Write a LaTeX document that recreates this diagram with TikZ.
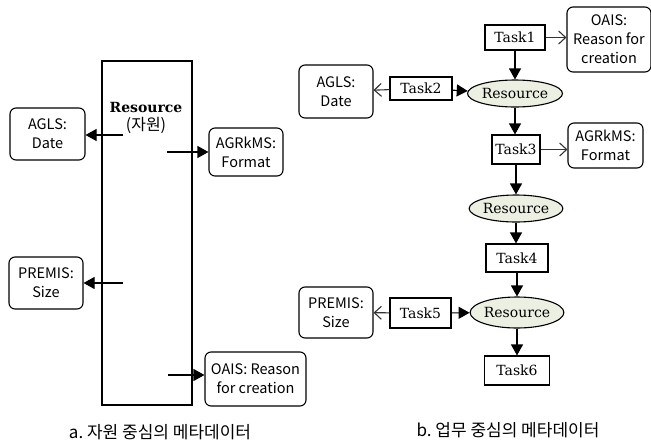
\documentclass[tikz,border=0pt]{standalone}
\usepackage{fontspec}
\newfontfamily\kr{Noto Sans CJK KR}
\newfontfamily\serifw{DejaVu Serif}
\usetikzlibrary{arrows.meta, shapes.geometric}
\definecolor{resfill}{RGB}{236,240,226}

\begin{document}
\begin{tikzpicture}[x=1pt, y=-1pt, line width=1.1pt,
    task/.style={draw, rectangle, inner sep=1pt, font=\serifw\fontsize{14}{16}\selectfont},
    meta/.style={draw, rounded corners=6pt, align=center, inner sep=1pt,
                 font=\kr\fontsize{14.5}{19}\selectfont},
    res/.style={draw, ellipse, fill=resfill, inner sep=0pt, font=\serifw\fontsize{14}{16}\selectfont},
    fa/.style={-{Triangle[length=11pt,width=12pt]}},
    oa/.style={-{Straight Barb[length=7pt,width=13pt]}, draw=black!80}]
    \useasboundingbox (0,0) rectangle (651,445);

    % a. resource-centred
    \node[draw, minimum width=90pt, minimum height=344pt] (resbox) at (147,233) {};
    \node[font=\serifw\bfseries\fontsize{14}{16}\selectfont] (restitle) at (146,107) {Resource};
    \node[font=\kr\fontsize{16}{17}\selectfont] (reskr) at (146,125) {(자원)};

    \node[meta, minimum width=75pt, minimum height=52pt] (aglsL) at (47.5,134) {AGLS:\\Date};
    \node[meta, minimum width=74pt, minimum height=48pt] (agrkmsL) at (246,152) {AGRkMS:\\Format};
    \node[meta, minimum width=74pt, minimum height=52pt] (premisL) at (46,283) {PREMIS:\\Size};
    \node[meta, minimum width=101pt, minimum height=54pt] (oaisL) at (255.5,379) {OAIS: Reason\\for creation};

    \coordinate (a1) at (123,135);
    \coordinate (a2) at (167,152);
    \coordinate (a3) at (123,283);
    \coordinate (a4) at (168,375);
    \draw[fa] (a1) -- (a1 -| aglsL.east);
    \draw[fa] (a2) -- (a2 -| agrkmsL.west);
    \draw[fa] (a3) -- (a3 -| premisL.east);
    \draw[fa] (a4) -- (a4 -| oaisL.west);

    \node[font=\kr\fontsize{17}{18}\selectfont] (capa) at (160,432) {a.\ 자원\ 중심의\ 메타데이터};

    % b. task-centred
    \node[task, minimum width=60pt, minimum height=25pt] (task1) at (515,37.5) {Task1};
    \node[task, minimum width=62pt, minimum height=23pt] (task2) at (421,88.5) {Task2};
    \node[task, minimum width=48pt, minimum height=29pt] (task3) at (516,149.5) {Task3};
    \node[task, minimum width=62pt, minimum height=28pt] (task4) at (517,258) {Task4};
    \node[task, minimum width=61pt, minimum height=30pt] (task5) at (420.5,313) {Task5};
    \node[task, minimum width=65pt, minimum height=29pt] (task6) at (517,370.5) {Task6};

    \node[res, minimum width=95pt, minimum height=27pt] (res1) at (515,93.5) {Resource};
    \node[res, minimum width=92pt, minimum height=27pt] (res2) at (516,208.5) {Resource};
    \node[res, minimum width=93pt, minimum height=31pt] (res3) at (517,312.5) {Resource};

    \node[meta, minimum width=84pt, minimum height=65pt] (oaisR) at (609,39.5) {OAIS:\\Reason\ for\\creation};
    \node[meta, minimum width=74pt, minimum height=53pt] (aglsR) at (336,91.5) {AGLS:\\Date};
    \node[meta, minimum width=75pt, minimum height=45pt] (agrkmsR) at (605.5,145.5) {AGRkMS:\\Format};
    \node[meta, minimum width=74pt, minimum height=51pt] (premisR) at (336,312.5) {PREMIS:\\Size};

    \draw[fa] (task1) -- (res1);
    \draw[fa] (task2) -- (res1);
    \draw[fa] (res1) -- (res1 |- task3.north);
    \draw[fa] (task3) -- (res2);
    \draw[fa] (res2) -- (res2 |- task4.north);
    \draw[fa] (task4) -- (res3);
    \draw[fa] (task5) -- (res3);
    \draw[fa] (res3) -- (task6);

    \draw[oa] (task1.east) -- (task1.east -| oaisR.west);
    \draw[oa] (task2) -- (aglsR);
    \draw[oa] (task3.east) -- (task3.east -| agrkmsR.west);
    \draw[oa] (task5) -- (premisR);

    \node[font=\kr\fontsize{17}{18}\selectfont] (capb) at (508,430) {b.\ 업무\ 중심의\ 메타데이터};
\end{tikzpicture}
\end{document}
